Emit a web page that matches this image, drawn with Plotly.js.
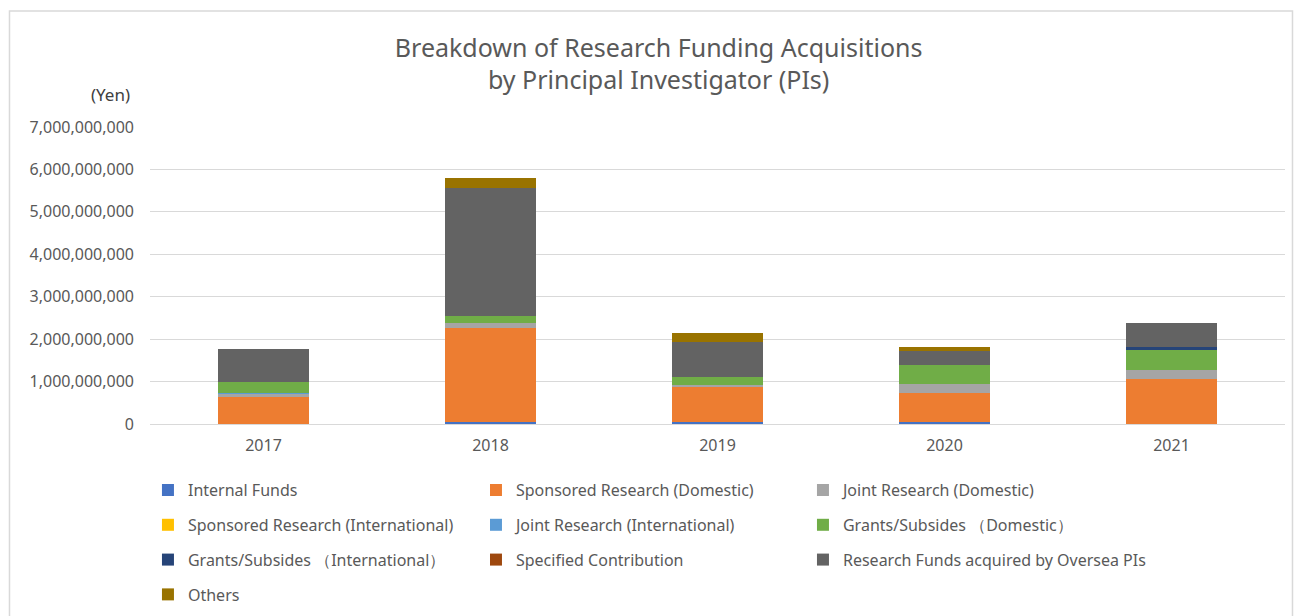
<!DOCTYPE html>
<html>
<head>
<meta charset="utf-8">
<script src="https://cdn.plot.ly/plotly-3.0.1.min.js"></script>
<style>html,body{margin:0;padding:0;background:#fff;}#chart{width:1294px;height:616px;}</style>
</head>
<body>
<div id="chart"></div>
<script>
const years = ["2017", "2018", "2019", "2020", "2021"];

const internalFunds        = [0.00e9, 0.05e9, 0.04e9, 0.04e9, 0.01e9];
const sponsoredDomestic    = [0.63e9, 2.21e9, 0.83e9, 0.68e9, 1.04e9];
const jointDomestic        = [0.08e9, 0.12e9, 0.06e9, 0.22e9, 0.23e9];
const sponsoredIntl        = [0.00e9, 0.00e9, 0.00e9, 0.00e9, 0.00e9];
const jointIntl            = [0.01e9, 0.00e9, 0.00e9, 0.00e9, 0.00e9];
const grantsDomestic       = [0.26e9, 0.17e9, 0.17e9, 0.44e9, 0.46e9];
const grantsIntl           = [0.00e9, 0.00e9, 0.00e9, 0.00e9, 0.08e9];
const specifiedContrib     = [0.00e9, 0.00e9, 0.00e9, 0.00e9, 0.00e9];
const overseaPIs           = [0.78e9, 3.01e9, 0.83e9, 0.34e9, 0.55e9];
const others               = [0.00e9, 0.24e9, 0.22e9, 0.10e9, 0.00e9];

const seriesNames = [
  "Internal Funds",
  "Sponsored Research (Domestic)",
  "Joint Research (Domestic)",
  "Sponsored Research (International)",
  "Joint Research (International)",
  "Grants/Subsides （Domestic）",
  "Grants/Subsides （International）",
  "Specified Contribution",
  "Research Funds acquired by Oversea PIs",
  "Others"
];
const seriesValues = [internalFunds, sponsoredDomestic, jointDomestic, sponsoredIntl, jointIntl,
  grantsDomestic, grantsIntl, specifiedContrib, overseaPIs, others];
const seriesColors = ["#4472C4", "#ED7D31", "#A5A5A5", "#FFC000", "#5B9BD5",
  "#70AD47", "#264478", "#9E480E", "#636363", "#997300"];
const legendOf = ["legend", "legend2", "legend3", "legend", "legend2",
  "legend3", "legend", "legend2", "legend3", "legend"];

const yTicks = [0, 1e9, 2e9, 3e9, 4e9, 5e9, 6e9, 7e9];
const yTickText = ["0", "1,000,000,000", "2,000,000,000", "3,000,000,000", "4,000,000,000",
  "5,000,000,000", "6,000,000,000", "7,000,000,000"];

const FONT = "Noto Sans, Open Sans, sans-serif";

const traces = seriesNames.map((name, i) => ({
  type: "bar",
  name: name,
  x: years,
  y: seriesValues[i],
  marker: {color: seriesColors[i], line: {width: 0}},
  legend: legendOf[i],
  legendgroup: "g" + i,
  hoverinfo: "name+y"
}));

const legendBase = {
  orientation: "v",
  yref: "container",
  yanchor: "top",
  xanchor: "left",
  y: 0.232,
  font: {family: FONT, size: 16, color: "#595959"},
  tracegroupgap: 11,
  bgcolor: "rgba(0,0,0,0)",
  itemclick: false
};

const layout = {
  width: 1294,
  height: 616,
  margin: {l: 150, r: 9, t: 127, b: 192},
  paper_bgcolor: "#ffffff",
  plot_bgcolor: "#ffffff",
  barmode: "stack",
  bargap: 0.6,
  font: {family: FONT, color: "#595959"},
  title: {
    text: "Breakdown of Research Funding Acquisitions<br>by Principal Investigator (PIs)",
    font: {family: FONT, size: 25, color: "#595959"},
    x: 0.509, xanchor: "center",
    y: 0.908, yanchor: "middle"
  },
  xaxis: {
    type: "category",
    tickfont: {family: FONT, size: 16, color: "#595959"},
    showline: false,
    ticks: "",
    showgrid: false,
    zeroline: false,
    ticklabelstandoff: 10
  },
  yaxis: {
    range: [0, 7e9],
    tickvals: yTicks,
    ticktext: yTickText,
    tickfont: {family: FONT, size: 16, color: "#595959"},
    showgrid: true,
    gridcolor: "#d9d9d9",
    gridwidth: 1,
    zeroline: true,
    zerolinecolor: "#d9d9d9",
    zerolinewidth: 1,
    showline: false,
    ticks: "",
    ticklabelstandoff: 15,
    fixedrange: true
  },
  showlegend: true,
  legend: Object.assign({}, legendBase, {x: -0.0018}),
  legend2: Object.assign({}, legendBase, {x: 0.2872}),
  legend3: Object.assign({}, legendBase, {x: 0.5753}),
  annotations: [
    {
      text: "(Yen)", xref: "paper", yref: "paper",
      x: -0.0352, y: 1.111, xanchor: "center", yanchor: "middle",
      showarrow: false, font: {family: FONT, size: 17, color: "#404040"}
    }
  ],
  shapes: [
    {
      type: "rect", xref: "paper", yref: "paper",
      x0: -0.1238, x1: 1.0066, y0: -0.70, y1: 1.3906,
      line: {color: "#d9d9d9", width: 1.5}, fillcolor: "rgba(0,0,0,0)", layer: "below"
    }
  ]
};

Plotly.newPlot("chart", traces, layout, {displayModeBar: false, staticPlot: true});
</script>
</body>
</html>
